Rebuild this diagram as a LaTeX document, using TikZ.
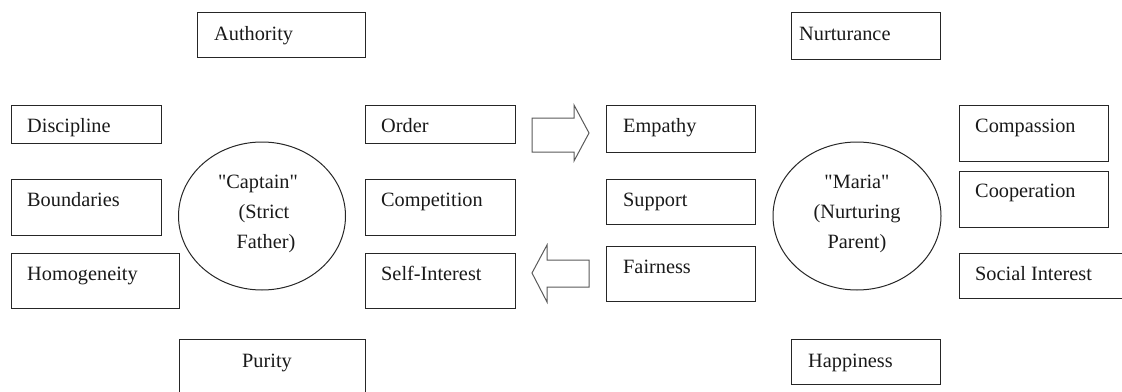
\documentclass[tikz,border=0pt]{standalone}
\usepackage{fontspec}
\newfontfamily\diagfont{Liberation Serif}
\usetikzlibrary{shapes.geometric}

\tikzset{
  valbox/.style={draw=black!85, line width=1.1pt, anchor=north west, inner sep=0pt},
  valtext/.style={anchor=base west, inner sep=0pt, text=black!90},
  parent/.style={draw=black!85, line width=1pt, ellipse, inner sep=0pt},
  partext/.style={anchor=base, inner sep=0pt, text=black!90},
  blockarrow/.style={draw=black!65, line width=1pt, line join=miter}
}

\begin{document}
\begin{tikzpicture}[x=1pt, y=-1pt, font=\diagfont\fontsize{20.3}{24}\selectfont]
  \useasboundingbox (0,0) rectangle (1122,391);

  % strict father side
  \node[valbox, minimum width=168pt, minimum height=45pt] (authority) at (197,12) {};
  \node[valtext] at ([xshift=17pt, yshift=-28pt]authority.north west) {Authority};
  \node[valbox, minimum width=150pt, minimum height=38pt] (discipline) at (11,105) {};
  \node[valtext] at ([xshift=16pt, yshift=-27pt]discipline.north west) {Discipline};
  \node[valbox, minimum width=150pt, minimum height=56pt] (boundaries) at (11,179) {};
  \node[valtext] at ([xshift=16pt, yshift=-27pt]boundaries.north west) {Boundaries};
  \node[valbox, minimum width=168pt, minimum height=55pt] (homogeneity) at (11,253) {};
  \node[valtext] at ([xshift=16pt, yshift=-27pt]homogeneity.north west) {Homogeneity};
  \node[valbox, minimum width=150pt, minimum height=38pt] (order) at (365,105) {};
  \node[valtext] at ([xshift=16pt, yshift=-27pt]order.north west) {Order};
  \node[valbox, minimum width=150pt, minimum height=56pt] (competition) at (365,179) {};
  \node[valtext] at ([xshift=16pt, yshift=-27pt]competition.north west) {Competition};
  \node[valbox, minimum width=150pt, minimum height=55pt] (selfint) at (365,253) {};
  \node[valtext] at ([xshift=16pt, yshift=-27pt]selfint.north west) {Self-Interest};
  \node[valbox, minimum width=186pt, minimum height=62pt] (purity) at (179,339) {};
  \node[valtext] at ([xshift=63pt, yshift=-28pt]purity.north west) {Purity};

  \node[parent, minimum width=167pt, minimum height=148pt] (captain) at (262,216) {};
  \node[partext] at ([xshift=-4pt, yshift=28pt]captain.center) {"Captain"};
  \node[partext] at ([xshift=2pt, yshift=-2pt]captain.center) {(Strict};
  \node[partext] at ([xshift=4pt, yshift=-32pt]captain.center) {Father)};

  % nurturing parent side
  \node[valbox, minimum width=149pt, minimum height=47pt] (nurturance) at (791,12) {};
  \node[valtext] at ([xshift=8pt, yshift=-28pt]nurturance.north west) {Nurturance};
  \node[valbox, minimum width=149pt, minimum height=47pt] (empathy) at (606,105) {};
  \node[valtext] at ([xshift=17pt, yshift=-27pt]empathy.north west) {Empathy};
  \node[valbox, minimum width=149pt, minimum height=45pt] (support) at (606,179) {};
  \node[valtext] at ([xshift=17pt, yshift=-27pt]support.north west) {Support};
  \node[valbox, minimum width=149pt, minimum height=55pt] (fairness) at (606,246) {};
  \node[valtext] at ([xshift=17pt, yshift=-27pt]fairness.north west) {Fairness};
  \node[valbox, minimum width=149pt, minimum height=56pt] (compassion) at (959,105) {};
  \node[valtext] at ([xshift=16pt, yshift=-27pt]compassion.north west) {Compassion};
  \node[valbox, minimum width=149pt, minimum height=56pt] (cooperation) at (959,171) {};
  \node[valtext] at ([xshift=16pt, yshift=-26pt]cooperation.north west) {Cooperation};
  \node[valbox, minimum width=175pt, minimum height=45pt] (socialint) at (959,253) {};
  \node[valtext] at ([xshift=16pt, yshift=-27pt]socialint.north west) {Social Interest};
  \node[valbox, minimum width=149pt, minimum height=45pt] (happiness) at (791,339) {};
  \node[valtext] at ([xshift=17pt, yshift=-28pt]happiness.north west) {Happiness};

  \node[parent, minimum width=168pt, minimum height=148pt] (maria) at (857,216) {};
  \node[partext] at ([yshift=28pt]maria.center) {"Maria"};
  \node[partext] at ([yshift=-2pt]maria.center) {(Nurturing};
  \node[partext] at ([yshift=-32pt]maria.center) {Parent)};

  % block arrows
  \draw[blockarrow] (532,118) -- (574,118) -- (574,105) -- (589,133) -- (574,161)
    -- (574,152) -- (532,152) -- cycle;
  \draw[blockarrow] (589,260) -- (547,260) -- (547,245) -- (532,273) -- (547,302)
    -- (547,287) -- (589,287) -- cycle;
\end{tikzpicture}
\end{document}
